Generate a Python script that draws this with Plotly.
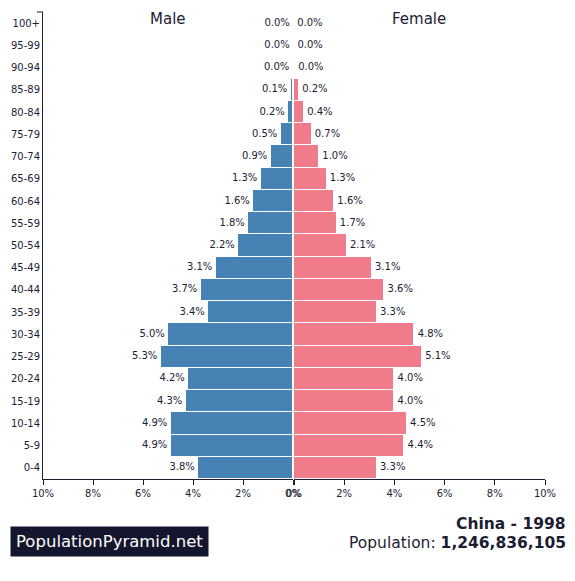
import plotly.graph_objects as go
from plotly.subplots import make_subplots

age_groups = ['0-4', '5-9', '10-14', '15-19', '20-24', '25-29', '30-34', '35-39',
              '40-44', '45-49', '50-54', '55-59', '60-64', '65-69', '70-74',
              '75-79', '80-84', '85-89', '90-94', '95-99', '100+']
male = [3.8, 4.9, 4.9, 4.3, 4.2, 5.3, 5.0, 3.4, 3.7, 3.1, 2.2,
        1.8, 1.6, 1.3, 0.9, 0.5, 0.2, 0.1, 0.02, 0.005, 0.001]
female = [3.3, 4.4, 4.5, 4.0, 4.0, 5.1, 4.8, 3.3, 3.6, 3.1, 2.1,
          1.7, 1.6, 1.3, 1.0, 0.7, 0.4, 0.2, 0.04, 0.01, 0.001]
ticks = [0, 2, 4, 6, 8, 10]
country = 'China - 1998'
population = '1,246,836,105'

DARK = '#1c1d33'
FONT = 'DejaVu Sans'
# the page body has an 8px margin, so the figure is drawn 8px in from the corner
OFF = 8
W, H = 575 - OFF, 581 - OFF
ML, MR, MT, MB = 43 - OFF, 30, 12 - OFF, 102

fig = make_subplots(rows=1, cols=2, shared_yaxes=True, horizontal_spacing=0.002)

for col, vals, color, pos in [(1, male, '#4682b4', 'middle left'),
                              (2, female, '#f07b8b', 'middle right')]:
    fig.add_trace(go.Bar(
        y=age_groups, x=vals, orientation='h',
        marker=dict(color=color, line=dict(color='white', width=1)),
        hoverinfo='skip'), row=1, col=col)
    # value labels next to the bar ends
    fig.add_trace(go.Scatter(
        y=age_groups, x=vals, mode='text',
        text=[(' %.1f%%' % v) if col == 2 else ('%.1f%% ' % v) for v in vals],
        textposition=pos, cliponaxis=False,
        textfont=dict(size=10, color=DARK, family=FONT), hoverinfo='skip'),
        row=1, col=col)

xcommon = dict(tickvals=ticks, ticktext=['%d%%' % t for t in ticks],
               showgrid=False, zeroline=False, showline=True, linecolor=DARK,
               linewidth=1, ticks='outside', ticklen=5, tickcolor=DARK,
               automargin=False, tickfont=dict(size=10, color=DARK))
fig.update_xaxes(range=[10, 0], domain=[0, 250 / 502], **xcommon, row=1, col=1)
fig.update_xaxes(range=[0, 10], domain=[251 / 502, 1], **xcommon, row=1, col=2)
fig.update_yaxes(range=[-0.5, 20.5], showgrid=False, zeroline=False,
                 showline=True, linecolor=DARK, linewidth=1, ticks='',
                 automargin=False, tickfont=dict(size=10, color=DARK), row=1, col=1)
fig.update_yaxes(showline=False, showticklabels=False, ticks='',
                 automargin=False, row=1, col=2)

fig.update_layout(
    width=W, height=H,
    margin=dict(l=ML, r=MR, t=MT, b=MB, autoexpand=False),
    bargap=0, showlegend=False,
    plot_bgcolor='white', paper_bgcolor='white',
    font=dict(family=FONT, color=DARK, size=10),
)

pw = W - ML - MR
ph = H - MT - MB


def px_x(px):
    return (px - OFF - ML) / pw


def px_y(px):
    return (H - MB - (px - OFF)) / ph


# outer tick at the top of the y axis line
fig.add_shape(type='line', xref='paper', yref='paper', x0=px_x(37), x1=px_x(43),
              y0=1, y1=1, line=dict(color=DARK, width=1))

fig.add_annotation(text='Male', xref='paper', yref='paper', x=px_x(168), y=px_y(19),
                   xanchor='center', yanchor='middle', showarrow=False,
                   font=dict(size=15, color=DARK))
fig.add_annotation(text='Female', xref='paper', yref='paper', x=px_x(419), y=px_y(19),
                   xanchor='center', yanchor='middle', showarrow=False,
                   font=dict(size=15, color=DARK))

# footer: site badge and country/population text
fig.add_annotation(text='PopulationPyramid.net', xref='paper', yref='paper',
                   x=px_x(10), y=px_y(541.5), xanchor='left', yanchor='middle',
                   showarrow=False, bgcolor='#14162e', borderpad=5,
                   font=dict(size=16.5, color='white'))
fig.add_annotation(text='<b>%s</b>' % country, xref='paper', yref='paper',
                   x=px_x(568), y=px_y(524), xanchor='right', yanchor='middle',
                   showarrow=False, font=dict(size=15.5, color=DARK))
fig.add_annotation(text='Population: <b>%s</b>' % population, xref='paper', yref='paper',
                   x=px_x(568), y=px_y(543), xanchor='right', yanchor='middle',
                   showarrow=False, font=dict(size=15.5, color=DARK))

fig.write_html('out.html')
